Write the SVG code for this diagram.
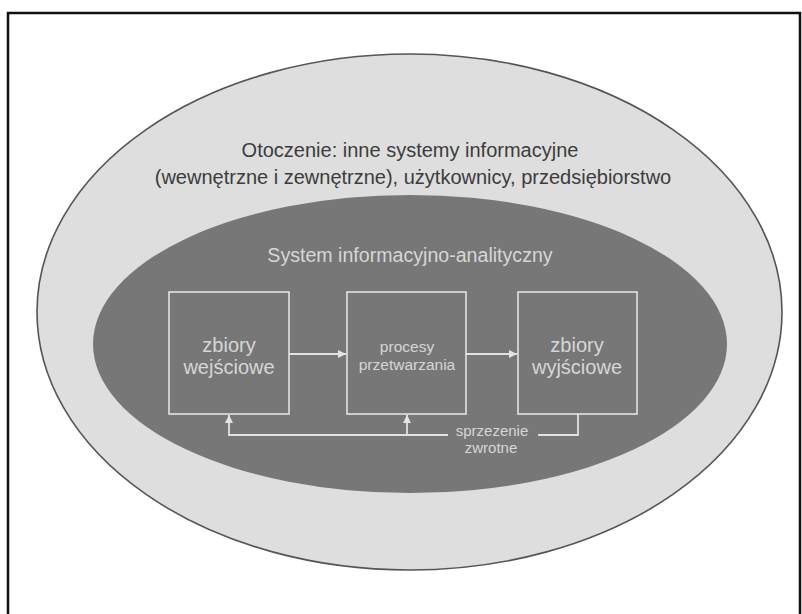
<svg xmlns="http://www.w3.org/2000/svg" width="802" height="614" viewBox="0 0 802 614">
  <defs>
    <marker id="arrow" viewBox="0 0 10 10" refX="10" refY="5" markerWidth="8" markerHeight="8" markerUnits="userSpaceOnUse" orient="auto">
      <path d="M0,0 L10,5 L0,10 z" fill="#e4e4e4"/>
    </marker>
    <style>
      .frame { fill: none; stroke: #111; stroke-width: 2.5; }
      .outer { fill: #dedede; stroke: #555; stroke-width: 1.6; }
      .inner { fill: #777777; stroke: none; }
      .box { fill: none; stroke: #e2e2e2; stroke-width: 1.6; }
      .link { fill: none; stroke: #e2e2e2; stroke-width: 1.8; }
      .dark { font-family: "Liberation Sans", Arial, sans-serif; fill: #3c3c3c; text-anchor: middle; }
      .light { font-family: "Liberation Sans", Arial, sans-serif; fill: #d6d6d6; text-anchor: middle; }
    </style>
  </defs>

  <rect width="802" height="614" fill="#fff"/>
  <path class="frame" d="M8,614 V13 H800 V614"/>

  <g id="environment">
    <ellipse class="outer" cx="409.5" cy="312" rx="372.5" ry="258"/>
    <text class="dark" font-size="20" x="410" y="157">Otoczenie: inne systemy informacyjne</text>
    <text class="dark" font-size="20" x="413" y="184">(wewnętrzne i zewnętrzne), użytkownicy, przedsiębiorstwo</text>
  </g>

  <g id="system">
    <ellipse class="inner" cx="410" cy="344" rx="317" ry="149"/>
    <text class="light" font-size="19.6" x="410" y="262">System informacyjno-analityczny</text>
  </g>

  <g id="input-sets">
    <rect class="box" x="169" y="292" width="120" height="122"/>
    <text class="light" font-size="20" x="229" y="352">zbiory</text>
    <text class="light" font-size="20" x="229" y="374">wejściowe</text>
  </g>

  <g id="processes">
    <rect class="box" x="347" y="292" width="119" height="122"/>
    <text class="light" font-size="15.5" x="407" y="352">procesy</text>
    <text class="light" font-size="15.5" x="407" y="370">przetwarzania</text>
  </g>

  <g id="output-sets">
    <rect class="box" x="518" y="292" width="119" height="122"/>
    <text class="light" font-size="20" x="577" y="352">zbiory</text>
    <text class="light" font-size="20" x="577" y="374">wyjściowe</text>
  </g>

  <g id="connectors">
    <line class="link" x1="289" y1="354" x2="346" y2="354" marker-end="url(#arrow)"/>
    <line class="link" x1="466" y1="354" x2="517" y2="354" marker-end="url(#arrow)"/>
    <path class="link" d="M578,414 V435 H538"/>
    <path class="link" d="M448,435 H229 V415" marker-end="url(#arrow)"/>
    <line class="link" x1="407" y1="435" x2="407" y2="415" marker-end="url(#arrow)"/>
    <text class="light" font-size="15" x="492" y="436">sprzezenie</text>
    <text class="light" font-size="15" x="491" y="453">zwrotne</text>
  </g>
</svg>
